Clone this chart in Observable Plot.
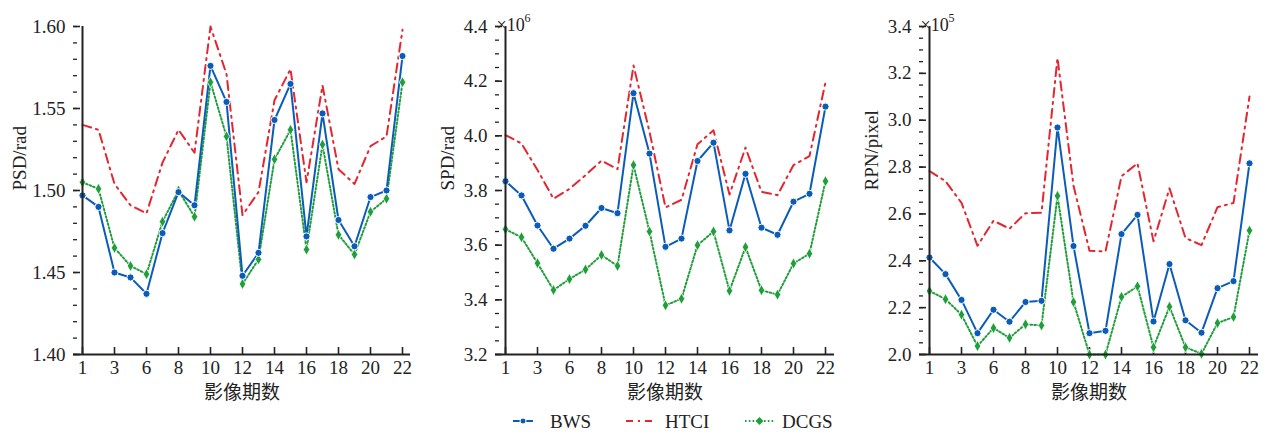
<!DOCTYPE html>
<html><head><meta charset="utf-8">
<script src="https://cdn.jsdelivr.net/npm/d3@7"></script>
<script src="https://cdn.jsdelivr.net/npm/@observablehq/plot@0.6"></script>
<style>
body{margin:0;background:#fff;}
#wrap{position:relative;width:1278px;height:434px;font-family:"Liberation Serif","Times New Roman",serif;overflow:hidden;}
.panel{position:absolute;top:0;}
.panel g[aria-label="y-axis tick label"], .panel g[aria-label="x-axis tick label"]{font-size:19px !important;font-family:"Liberation Serif","Times New Roman",serif !important;}
#legend{position:absolute;top:406px;left:0;}
</style></head><body><div id="wrap"></div>
<script>
// ---- data ----
const periods = ["1","2","3","4","6","7","8","9","10","11","12","13","14","15","16","17","18","19","20","21","22"];
const xTicks = ["1","3","6","8","10","12","14","16","18","20","22"];
const seriesNames = ["BWS","HTCI","DCGS"];

const psdBWS  = [1.497,1.490,1.450,1.447,1.437,1.474,1.499,1.491,1.576,1.554,1.448,1.462,1.543,1.565,1.472,1.547,1.482,1.466,1.496,1.500,1.582];
const psdHTCI = [1.540,1.537,1.504,1.491,1.486,1.517,1.537,1.523,1.600,1.571,1.485,1.499,1.555,1.574,1.505,1.564,1.513,1.504,1.527,1.533,1.598];
const psdDCGS = [1.505,1.501,1.465,1.454,1.449,1.481,1.500,1.484,1.566,1.533,1.443,1.458,1.519,1.537,1.464,1.528,1.473,1.461,1.487,1.495,1.566];

const spdBWS  = [3.834,3.782,3.672,3.587,3.624,3.671,3.736,3.717,4.156,3.935,3.594,3.624,3.908,3.975,3.654,3.861,3.664,3.638,3.759,3.788,4.107];
const spdHTCI = [4.003,3.972,3.875,3.770,3.806,3.856,3.909,3.878,4.257,4.015,3.738,3.766,3.969,4.020,3.785,3.957,3.795,3.783,3.893,3.926,4.196];
const spdDCGS = [3.658,3.629,3.534,3.436,3.476,3.511,3.564,3.524,3.893,3.650,3.380,3.404,3.600,3.650,3.433,3.593,3.435,3.419,3.533,3.569,3.834];

const rpnBWS  = [2.414,2.343,2.233,2.091,2.191,2.140,2.224,2.229,2.969,2.463,2.091,2.101,2.514,2.596,2.141,2.386,2.146,2.093,2.283,2.313,2.816];
const rpnHTCI = [2.783,2.740,2.647,2.464,2.571,2.537,2.603,2.605,3.266,2.720,2.443,2.440,2.761,2.816,2.483,2.709,2.497,2.467,2.629,2.647,3.101];
const rpnDCGS = [2.271,2.236,2.170,2.036,2.113,2.071,2.129,2.124,2.677,2.224,2.000,2.000,2.246,2.291,2.031,2.204,2.031,2.003,2.134,2.160,2.529];

const psdTicks = [1.40,1.45,1.50,1.55,1.60];
const spdTicks = [3.2,3.4,3.6,3.8,4.0,4.2,4.4];
const rpnTicks = [2.0,2.2,2.4,2.6,2.8,3.0,3.2,3.4];

// ---- styles ----
const colors = {BWS:"#0b5cb8", HTCI:"#e3262f", DCGS:"#1f9e3a"};
const serif = "'Liberation Serif','Times New Roman',serif";
const cjk = "'Noto Sans CJK SC','Liberation Serif',serif";
const axisColor = "#222";

function buildPanel({left, width, ml, mr, domain, major, minorStep, digits, values, ylabel, ylabelDx, expPower}) {
  const rows = [];
  seriesNames.forEach((s, i) => values[i].forEach((v, j) => rows.push({period: periods[j], value: v, series: s})));
  const minor = d3.range(Math.round((domain[1]-domain[0])/minorStep)+1).map(i => domain[0] + i*minorStep);
  const of = s => rows.filter(d => d.series === s);
  const marks = [
    Plot.axisY({ticks: minor, tickSize: -4, tickFormat: () => "", label: null, stroke: axisColor, strokeWidth: 1.3}),
    Plot.axisY({ticks: major, tickSize: -7, tickPadding: 15, tickFormat: d => d.toFixed(digits), label: null, stroke: axisColor, strokeWidth: 1.6, fill: axisColor, fontSize: 19, fontFamily: serif}),
    Plot.axisX({ticks: xTicks, tickSize: -7, tickPadding: 13, label: null, stroke: axisColor, strokeWidth: 1.6, fill: axisColor, fontSize: 19, fontFamily: serif}),
    Plot.line(of("HTCI"), {x: "period", y: "value", stroke: colors.HTCI, strokeWidth: 2, strokeDasharray: "9,5,2,5"}),
    Plot.line(of("DCGS"), {x: "period", y: "value", stroke: colors.DCGS, strokeWidth: 2, strokeDasharray: "1.6,2.2"}),
    Plot.line(of("BWS"), {x: "period", y: "value", stroke: colors.BWS, strokeWidth: 2}),
    Plot.dot(of("DCGS"), {x: "period", y: "value", symbol: "diamond", r: 3.4, fill: colors.DCGS, stroke: "white", strokeWidth: 0.8}),
    Plot.dot(of("BWS"), {x: "period", y: "value", r: 3.6, fill: colors.BWS, stroke: "white", strokeWidth: 1}),
    Plot.ruleX([periods[0]], {stroke: axisColor, strokeWidth: 2}),
    Plot.ruleY([domain[0]], {stroke: axisColor, strokeWidth: 2}),
    Plot.text(["影像期数"], {frameAnchor: "bottom", dy: 44, fontSize: 19, fontFamily: cjk, fill: axisColor}),
    Plot.text([ylabel], {frameAnchor: "left", rotate: -90, dx: ylabelDx, fontSize: 19, fontFamily: serif, fill: axisColor})
  ];
  if (expPower) {
    marks.push(Plot.text(["×10"], {frameAnchor: "top-left", textAnchor: "start", dy: -8, dx: 1, fontSize: 18, fontFamily: serif, fill: axisColor}));
    marks.push(Plot.text([expPower], {frameAnchor: "top-left", textAnchor: "start", dy: -13, dx: 29, fontSize: 12, fontFamily: serif, fill: axisColor}));
  }
  const svg = Plot.plot({
    width, height: 400, marginLeft: ml, marginRight: mr, marginTop: 26, marginBottom: 46,
    style: {fontFamily: serif, fontSize: "19px", color: axisColor, background: "transparent", overflow: "visible"},
    x: {type: "point", domain: periods, padding: 0},
    y: {domain},
    marks
  });
  svg.classList.add("panel");
  svg.style.left = left + "px";
  return svg;
}

const wrap = document.getElementById("wrap");
wrap.appendChild(buildPanel({left: 0, width: 426, ml: 73, mr: 16, domain: [1.40, 1.60], major: psdTicks, minorStep: 0.01, digits: 2,
  values: [psdBWS, psdHTCI, psdDCGS], ylabel: "PSD/rad", ylabelDx: -54}));
wrap.appendChild(buildPanel({left: 430, width: 420, ml: 65, mr: 16, domain: [3.2, 4.4], major: spdTicks, minorStep: 0.05, digits: 1,
  values: [spdBWS, spdHTCI, spdDCGS], ylabel: "SPD/rad", ylabelDx: -48, expPower: "6"}));
wrap.appendChild(buildPanel({left: 850, width: 428, ml: 69, mr: 20, domain: [2.0, 3.4], major: rpnTicks, minorStep: 0.05, digits: 1,
  values: [rpnBWS, rpnHTCI, rpnDCGS], ylabel: "RPN/pixel", ylabelDx: -48, expPower: "5"}));

// ---- legend ----
const lg = d3.select(wrap).append("svg").attr("id", "legend").attr("width", 1278).attr("height", 28);
const cy = 15;
const items = [
  {name: "BWS", x0: 513, x1: 533, text: 550, dash: null, marker: "circle"},
  {name: "HTCI", x0: 626, x1: 657, text: 665, dash: "7,5,2,5", marker: null},
  {name: "DCGS", x0: 745, x1: 774, text: 782, dash: "1.6,2.2", marker: "diamond"}
];
items.forEach(it => {
  const ln = lg.append("line").attr("x1", it.x0).attr("x2", it.x1).attr("y1", cy).attr("y2", cy)
    .attr("stroke", colors[it.name]).attr("stroke-width", 2);
  if (it.dash) ln.attr("stroke-dasharray", it.dash);
  const mx = (it.x0 + it.x1) / 2;
  if (it.marker === "circle") lg.append("circle").attr("cx", mx).attr("cy", cy).attr("r", 3).attr("fill", colors[it.name]).attr("stroke", "white").attr("stroke-width", 1);
  if (it.marker === "diamond") lg.append("path").attr("d", d3.symbol(d3.symbolDiamond2, 40)()).attr("transform", `translate(${mx},${cy})`).attr("fill", colors[it.name]);
  lg.append("text").attr("x", it.text).attr("y", cy).attr("dy", "0.35em").attr("font-family", serif).attr("font-size", 19).attr("fill", axisColor).text(it.name);
});
</script>
</body></html>
